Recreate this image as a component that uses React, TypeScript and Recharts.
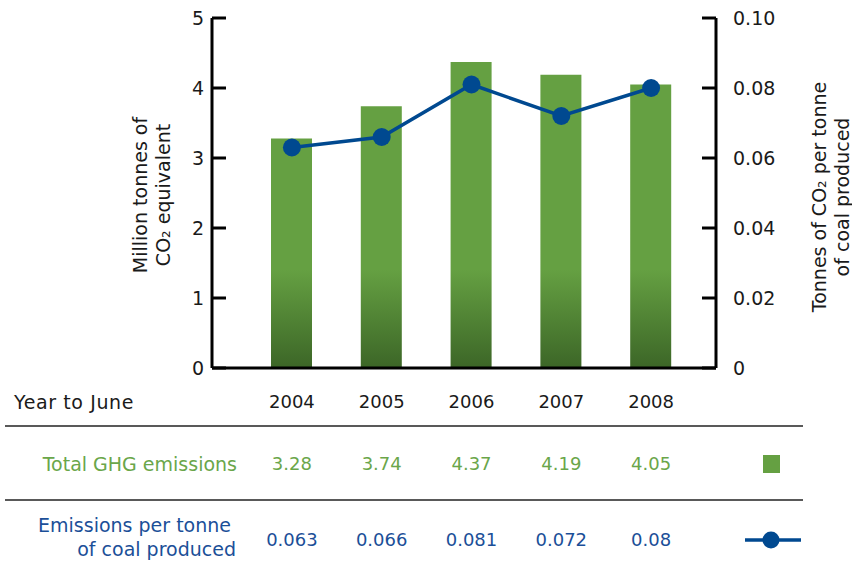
import React from "react";
import { ComposedChart, Bar, Line, XAxis, YAxis } from "recharts";

const years = ["2004", "2005", "2006", "2007", "2008"];
const totalGhg = [3.28, 3.74, 4.37, 4.19, 4.05];
const perTonne = [0.063, 0.066, 0.081, 0.072, 0.08];
const leftTicks = [0, 1, 2, 3, 4, 5];
const rightTicks = [0, 0.02, 0.04, 0.06, 0.08, 0.1];

const data = years.map((year, i) => ({ year, ghg: totalGhg[i], rate: perTonne[i] }));

const GREEN = "#65a042";
const GREEN_TEXT = "#6aa64a";
const BLUE = "#004990";
const BLUE_TEXT = "#1b4f98";
const INK = "#1a1a1a";
const FONT = "'DejaVu Sans', sans-serif";

function LeftTick(props: any) {
  const { x, y, payload } = props;
  return (
    <g>
      <line x1={x} x2={x + 14} y1={y} y2={y} stroke="#000" strokeWidth={3} />
      <text x={x - 8} y={y} dy="0.36em" textAnchor="end" fontSize={19} fill={INK} fontFamily={FONT}>
        {payload.value}
      </text>
    </g>
  );
}

function RightTick(props: any) {
  const { x, y, payload } = props;
  const v = payload.value as number;
  return (
    <g>
      <line x1={x - 14} x2={x} y1={y} y2={y} stroke="#000" strokeWidth={3} />
      <text x={x + 17} y={y} dy="0.36em" textAnchor="start" fontSize={19} fill={INK} fontFamily={FONT}>
        {v === 0 ? "0" : v.toFixed(2)}
      </text>
    </g>
  );
}

function YearTick(props: any) {
  const { x, payload } = props;
  const i = payload.index as number;
  return (
    <g fontFamily={FONT} fontSize={18} textAnchor="middle">
      <text x={x} y={402} dy="0.36em" fill={INK}>{payload.value}</text>
      <text x={x} y={464} dy="0.36em" fill={GREEN_TEXT}>{String(totalGhg[i])}</text>
      <text x={x} y={540} dy="0.36em" fill={BLUE_TEXT}>{String(perTonne[i])}</text>
    </g>
  );
}

export default function App() {
  return (
    <div style={{ position: "absolute", left: 0, top: 0, width: 852, height: 574, background: "#fff" }}>
      <ComposedChart width={852} height={574} data={data} margin={{ top: 18, right: 0, bottom: 0, left: 0 }}>
        <defs>
          <linearGradient id="barGrad" gradientUnits="userSpaceOnUse" x1="0" y1="270" x2="0" y2="368">
            <stop offset="0" stopColor={GREEN} />
            <stop offset="1" stopColor="#3c6627" />
          </linearGradient>
        </defs>
        <XAxis
          dataKey="year"
          height={206}
          padding={{ left: 35, right: 20 }}
          axisLine={{ stroke: "#000", strokeWidth: 3 }}
          tickLine={false}
          tickSize={0}
          tickMargin={0}
          interval={0}
          tick={<YearTick />}
        />
        <YAxis
          yAxisId="left"
          width={212}
          domain={[0, 5]}
          ticks={leftTicks}
          interval={0}
          axisLine={{ stroke: "#000", strokeWidth: 3 }}
          tickLine={false}
          tickSize={0}
          tickMargin={0}
          tick={<LeftTick />}
        />
        <YAxis
          yAxisId="right"
          orientation="right"
          width={136}
          domain={[0, 0.1]}
          ticks={rightTicks}
          interval={0}
          axisLine={{ stroke: "#000", strokeWidth: 3 }}
          tickLine={false}
          tickSize={0}
          tickMargin={0}
          tick={<RightTick />}
        />
        <Bar yAxisId="left" dataKey="ghg" barSize={41} fill="url(#barGrad)" isAnimationActive={false} />
        <Line
          yAxisId="right"
          dataKey="rate"
          type="linear"
          stroke={BLUE}
          strokeWidth={3.5}
          dot={{ r: 9, fill: BLUE, stroke: "none" }}
          activeDot={false}
          isAnimationActive={false}
        />
      </ComposedChart>
      <svg
        width={852}
        height={574}
        style={{ position: "absolute", left: 0, top: 0, pointerEvents: "none" }}
        fontFamily={FONT}
      >
        <g transform="translate(147 195) rotate(-90)" textAnchor="middle" fontSize={19} fill={INK}>
          <text x={0} y={-7} dy="0.36em">Million tonnes of</text>
          <text x={0} y={16} dy="0.36em">CO₂ equivalent</text>
        </g>
        <g transform="translate(830 197) rotate(-90)" textAnchor="middle" fontSize={19} fill={INK}>
          <text x={0} y={-11} dy="0.36em">Tonnes of CO₂ per tonne</text>
          <text x={0} y={12} dy="0.36em">of coal produced</text>
        </g>
        <text x={14} y={402} dy="0.36em" fontSize={19} letterSpacing={0.6} fill={INK}>Year to June</text>
        <line x1={5} x2={803} y1={426} y2={426} stroke="#222" strokeWidth={1.5} />
        <line x1={5} x2={803} y1={500} y2={500} stroke="#222" strokeWidth={1.5} />
        <text x={237} y={464} dy="0.36em" fontSize={19} textAnchor="end" fill={GREEN_TEXT}>Total GHG emissions</text>
        <text x={231} y={525} dy="0.36em" fontSize={19} textAnchor="end" fill={BLUE_TEXT}>Emissions per tonne</text>
        <text x={236} y={549} dy="0.36em" fontSize={19} textAnchor="end" fill={BLUE_TEXT}>of coal produced</text>
        <rect x={763} y={455} width={17} height={18} fill={GREEN} />
        <line x1={745} x2={801} y1={540} y2={540} stroke={BLUE} strokeWidth={3.5} />
        <circle cx={771} cy={540} r={8.5} fill={BLUE} />
      </svg>
    </div>
  );
}
